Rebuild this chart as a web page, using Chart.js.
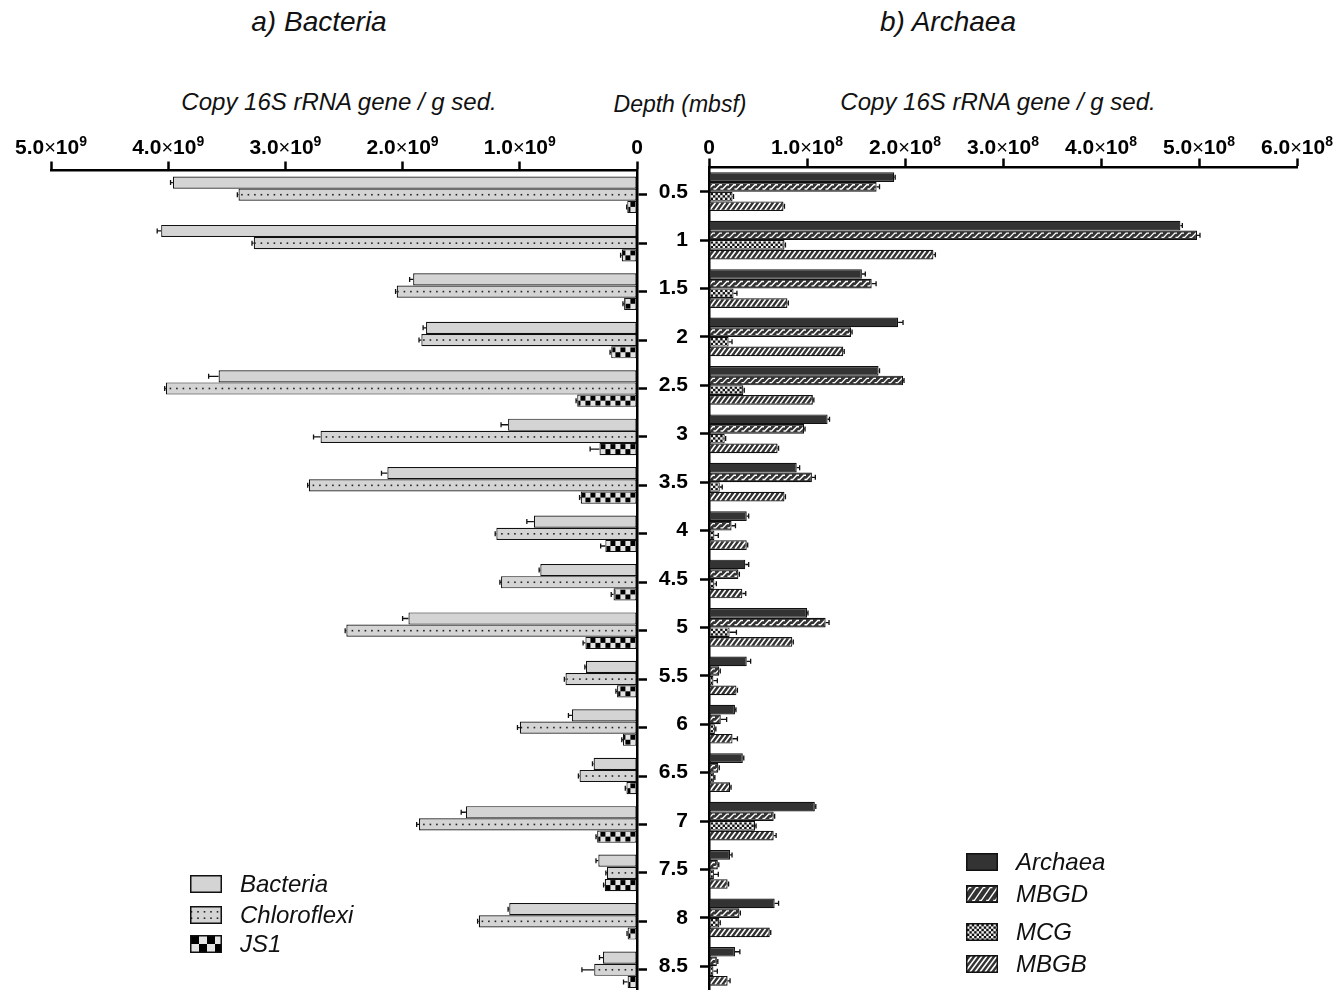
<!DOCTYPE html>
<html><head><meta charset="utf-8">
<script src="https://cdn.jsdelivr.net/npm/chart.js@4.4.1/dist/chart.umd.min.js"></script>
<style>
html,body{margin:0;padding:0;width:1340px;height:990px;overflow:hidden;background:#fff;font-family:"Liberation Sans",Arial,sans-serif;}
.t{position:absolute;font-style:italic;white-space:nowrap;transform:translate(-50%,-50%);color:#111;}
#wl{position:absolute;left:0;top:0;width:660px;height:1000px;}
#wr{position:absolute;left:650px;top:0;width:690px;height:1000px;}
.leg{position:absolute;display:flex;align-items:center;font-style:italic;font-size:24px;color:#111;white-space:nowrap;}
.leg canvas{margin-right:18px;}
</style></head><body>
<div class="t" style="left:319px;top:22px;font-size:28px;">a) Bacteria</div>
<div class="t" style="left:948px;top:22px;font-size:28px;">b) Archaea</div>
<div class="t" style="left:339px;top:102px;font-size:24px;">Copy 16S rRNA gene / g sed.</div>
<div class="t" style="left:998px;top:102px;font-size:24px;">Copy 16S rRNA gene / g sed.</div>
<div class="t" style="left:680px;top:104px;font-size:23px;">Depth (mbsf)</div>
<div id="wl"><canvas id="cl"></canvas></div>
<div id="wr"><canvas id="cr"></canvas></div>
<div id="legL"></div><div id="legR"></div>
<script>
// ---------- data ----------
const depths = ['0.5','1','1.5','2','2.5','3','3.5','4','4.5','5','5.5','6','6.5','7','7.5','8','8.5'];
const bacteriaTicks = [0, 1e9, 2e9, 3e9, 4e9, 5e9];
const archaeaTicks = [0, 1e8, 2e8, 3e8, 4e8, 5e8, 6e8];

const bacteria    = [3.96e9,4.06e9,1.91e9,1.80e9,3.57e9,1.10e9,2.13e9,0.88e9,0.825e9,1.95e9,0.435e9,0.555e9,0.37e9,1.46e9,0.33e9,1.09e9,0.29e9];
const bacteriaErr = [0.02e9,0.034e9,0.03e9,0.025e9,0.085e9,0.06e9,0.05e9,0.06e9,0.01e9,0.05e9,0.01e9,0.03e9,0.01e9,0.04e9,0.02e9,0.01e9,0.03e9];
const chloroflexi = [3.40e9,3.27e9,2.05e9,1.84e9,4.02e9,2.70e9,2.80e9,1.20e9,1.16e9,2.48e9,0.61e9,1.00e9,0.49e9,1.86e9,0.256e9,1.35e9,0.365e9];
const chloroflexiErr = [0.01e9,0.015e9,0.01e9,0.02e9,0.01e9,0.06e9,0.01e9,0.01e9,0.01e9,0.01e9,0.01e9,0.02e9,0.01e9,0.02e9,0.01e9,0.01e9,0.105e9];
const js1    = [0.083e9,0.13e9,0.11e9,0.22e9,0.51e9,0.32e9,0.48e9,0.27e9,0.20e9,0.44e9,0.17e9,0.12e9,0.09e9,0.34e9,0.275e9,0.08e9,0.08e9];
const js1Err = [0.005e9,0.01e9,0.01e9,0.01e9,0.01e9,0.08e9,0.01e9,0.04e9,0.02e9,0.02e9,0.01e9,0.01e9,0.01e9,0.01e9,0.01e9,0.005e9,0.035e9];

const archaea    = [1.89e8,4.81e8,1.56e8,1.93e8,1.73e8,1.21e8,0.895e8,0.385e8,0.37e8,1.00e8,0.385e8,0.265e8,0.345e8,1.08e8,0.215e8,0.67e8,0.265e8];
const archaeaErr = [0.01e8,0.02e8,0.035e8,0.05e8,0.01e8,0.02e8,0.03e8,0.02e8,0.035e8,0.01e8,0.04e8,0.01e8,0.01e8,0.01e8,0.02e8,0.04e8,0.05e8];
const mbgd    = [1.71e8,4.98e8,1.66e8,1.45e8,1.98e8,0.97e8,1.05e8,0.23e8,0.30e8,1.19e8,0.105e8,0.12e8,0.095e8,0.66e8,0.09e8,0.31e8,0.08e8];
const mbgdErr = [0.03e8,0.03e8,0.045e8,0.01e8,0.01e8,0.01e8,0.035e8,0.04e8,0.01e8,0.035e8,0.01e8,0.06e8,0.01e8,0.01e8,0.01e8,0.01e8,0.01e8];
const mcg    = [0.24e8,0.77e8,0.25e8,0.20e8,0.35e8,0.16e8,0.11e8,0.055e8,0.055e8,0.21e8,0.045e8,0.06e8,0.05e8,0.47e8,0.05e8,0.105e8,0.045e8];
const mcgErr = [0.01e8,0.01e8,0.035e8,0.035e8,0.01e8,0.01e8,0.025e8,0.04e8,0.02e8,0.07e8,0.04e8,0.01e8,0.01e8,0.01e8,0.045e8,0.01e8,0.04e8];
const mbgb    = [0.76e8,2.29e8,0.80e8,1.37e8,1.06e8,0.70e8,0.77e8,0.385e8,0.34e8,0.85e8,0.28e8,0.24e8,0.215e8,0.66e8,0.19e8,0.62e8,0.19e8];
const mbgbErr = [0.01e8,0.02e8,0.01e8,0.01e8,0.01e8,0.01e8,0.01e8,0.01e8,0.035e8,0.01e8,0.01e8,0.05e8,0.01e8,0.025e8,0.01e8,0.01e8,0.025e8];

// ---------- patterns ----------
const FONT = '"Liberation Sans", Arial, sans-serif';
function drawPattern(ctx, kind, x, y, w, h, fromRight) {
  if (w <= 0 || h <= 0) return;
  ctx.save();
  ctx.beginPath(); ctx.rect(x, y, w, h); ctx.clip();
  if (kind === 'dots') {
    ctx.fillStyle = '#222';
    const rows = h > 14 ? [y + h * 0.3, y + h * 0.7] : [y + h / 2];
    rows.forEach(cy => {
      for (let px = x + w - 3.5; px > x; px -= 6.5) ctx.fillRect(px - 0.8, cy - 0.8, 1.6, 1.6);
    });
  } else if (kind === 'checker') {
    const s = h / 2;
    ctx.fillStyle = '#e4e4e4'; ctx.fillRect(x, y, w, h);
    ctx.fillStyle = '#000';
    for (let i = 0; i * s < w + s; i++) for (let j = 0; j < 2; j++) {
      if ((i + j) % 2 === 0) {
        const px = fromRight ? x + w - (i + 1) * s : x + i * s;
        ctx.fillRect(px, y + j * s, s, s);
      }
    }
  } else if (kind === 'fine') {
    const s = 2.4;
    ctx.fillStyle = '#f2f2f2'; ctx.fillRect(x, y, w, h);
    ctx.fillStyle = '#111';
    for (let i = 0; i * s < w; i++) for (let j = 0; j * s < h; j++) {
      if ((i + j) % 2 === 0) ctx.fillRect(x + i * s, y + j * s, s, s);
    }
  } else if (kind === 'diag') {
    ctx.strokeStyle = '#fff'; ctx.lineWidth = 1.6;
    const dx = h * 0.75;
    ctx.beginPath();
    for (let k = x - dx; k < x + w + dx; k += 5) { ctx.moveTo(k, y + h); ctx.lineTo(k + dx, y); }
    ctx.stroke();
  } else if (kind === 'zig') {
    ctx.strokeStyle = '#fff'; ctx.lineWidth = 1.4;
    const dx = h * 0.55;
    ctx.beginPath();
    for (let k = x - dx; k < x + w + dx; k += 7) {
      ctx.moveTo(k, y + h - 1.6); ctx.lineTo(k + 2.2, y + h - 1.6);
      ctx.lineTo(k + 2.2 + dx, y + 1.6); ctx.lineTo(k + 4.4 + dx, y + 1.6);
    }
    ctx.stroke();
  }
  ctx.restore();
}

const overlayPlugin = {
  id: 'overlay',
  afterDatasetsDraw(chart) {
    const ctx = chart.ctx;
    const xs = chart.scales.x;
    chart.data.datasets.forEach((ds, di) => {
      const meta = chart.getDatasetMeta(di);
      meta.data.forEach((el, i) => {
        const p = el.getProps(['x', 'y', 'base', 'height'], true);
        const l = Math.min(p.x, p.base), r = Math.max(p.x, p.base);
        const t = p.y - p.height / 2;
        if (ds.pattern) drawPattern(ctx, ds.pattern, l + 1.1, t + 1.1, r - l - 2.2, p.height - 2.2, chart.options.fromRight);
        const e = ds.errors[i];
        const ex = xs.getPixelForValue(ds.data[i] + e);
        ctx.save();
        ctx.strokeStyle = '#111'; ctx.lineWidth = 1.3;
        ctx.beginPath();
        ctx.moveTo(p.x, p.y); ctx.lineTo(ex, p.y);
        ctx.moveTo(ex, p.y - 2.5); ctx.lineTo(ex, p.y + 2.5);
        ctx.stroke();
        ctx.restore();
      });
    });
  }
};

// x tick labels of the form 5.0×10⁹ with a real superscript
const sciLabelPlugin = {
  id: 'sciLabels',
  afterDraw(chart) {
    const o = chart.options.sci;
    const xs = chart.scales.x;
    const ctx = chart.ctx;
    const baseY = o.baseline;
    const fMain = 'bold 21px ' + FONT, fTimes = 'normal 20px ' + FONT, fSup = 'bold 14px ' + FONT;
    ctx.save();
    ctx.fillStyle = '#000';
    ctx.textBaseline = 'alphabetic';
    ctx.textAlign = 'left';
    o.ticks.forEach(v => {
      const px = xs.getPixelForValue(v);
      let parts;
      if (v === 0) parts = [['0', fMain, 0]];
      else parts = [[(v / o.unit).toFixed(1), fMain, 0], ['×', fTimes, 0], ['10', fMain, 0], [o.exp, fSup, -8]];
      let total = 0;
      parts.forEach(p => { ctx.font = p[1]; p.push(ctx.measureText(p[0]).width); total += p[3]; });
      let x = px - total / 2;
      parts.forEach(p => { ctx.font = p[1]; ctx.fillText(p[0], x, baseY + p[2]); x += p[3]; });
    });
    ctx.restore();
  }
};

function makeChart(id, cfg) {
  const fit = cfg.fit;
  return new Chart(document.getElementById(id), {
    type: 'bar',
    plugins: [overlayPlugin, sciLabelPlugin],
    data: { labels: depths, datasets: cfg.datasets },
    options: {
      fromRight: cfg.fromRight,
      sci: { ticks: cfg.ticks, unit: cfg.unit, exp: cfg.exp, baseline: 153.5 },
      indexAxis: 'y',
      responsive: true, maintainAspectRatio: false,
      animation: false,
      layout: { padding: cfg.padding },
      plugins: { legend: { display: false }, tooltip: { enabled: false } },
      datasets: { bar: { categoryPercentage: cfg.catPct, barPercentage: 1.0, borderWidth: 1.2, borderColor: '#111', borderSkipped: false } },
      scales: {
        x: {
          position: 'top', reverse: cfg.reverse, min: cfg.ticks[0], max: cfg.ticks[cfg.ticks.length - 1],
          afterBuildTicks: s => { s.ticks = cfg.ticks.map(v => ({ value: v })); },
          afterFit: s => { s.height = fit.xh; s.paddingLeft = 0; s.paddingRight = 0; s.paddingTop = 0; s.paddingBottom = 0; },
          z: 1,
          border: { display: true, color: '#000', width: 2.5 },
          grid: { display: true, drawOnChartArea: false, drawTicks: true, tickLength: 9, tickWidth: 2.5, tickColor: '#000' },
          ticks: { display: false }
        },
        y: {
          position: cfg.yPos, offset: true,
          afterFit: s => { s.width = fit.yw; s.paddingTop = 0; s.paddingBottom = 0; s.paddingLeft = 0; s.paddingRight = 0; },
          z: 1,
          border: { display: true, color: '#000', width: 2.5 },
          grid: { display: true, offset: false, drawOnChartArea: false, drawTicks: true, tickLength: cfg.yTick, tickWidth: 2.5, tickColor: '#000' },
          ticks: {
            display: cfg.yLabels, padding: 12, color: '#000', autoSkip: false,
            font: { family: FONT, size: 21, weight: 'bold' }
          }
        }
      }
    }
  });
}

const leftSets = [
  { label: 'Bacteria', data: bacteria, errors: bacteriaErr, backgroundColor: '#d4d4d4', pattern: null },
  { label: 'Chloroflexi', data: chloroflexi, errors: chloroflexiErr, backgroundColor: '#d4d4d4', pattern: 'dots' },
  { label: 'JS1', data: js1, errors: js1Err, backgroundColor: '#e4e4e4', pattern: 'checker' }
];
const rightSets = [
  { label: 'Archaea', data: archaea, errors: archaeaErr, backgroundColor: '#333333', pattern: null },
  { label: 'MBGD', data: mbgd, errors: mbgdErr, backgroundColor: '#333333', pattern: 'zig' },
  { label: 'MCG', data: mcg, errors: mcgErr, backgroundColor: '#f2f2f2', pattern: 'fine' },
  { label: 'MBGB', data: mbgb, errors: mbgbErr, backgroundColor: '#333333', pattern: 'diag' }
];

makeChart('cl', {
  datasets: leftSets, ticks: bacteriaTicks, reverse: true, unit: 1e9, exp: '9',
  padding: { left: 51, right: 0, top: 0, bottom: 6 }, fit: { xh: 170.5, yw: 23 },
  catPct: 0.755, yPos: 'right', yTick: 10, yLabels: false, fromRight: true
});
makeChart('cr', {
  datasets: rightSets, ticks: archaeaTicks, reverse: false, unit: 1e8, exp: '8',
  padding: { left: 0, right: 43, top: 0, bottom: 9.5 }, fit: { xh: 167.5, yw: 59 },
  catPct: 0.80, yPos: 'left', yTick: 9, yLabels: true, fromRight: false
});

// ---------- legends ----------
function buildLegend(hostId, sets, left, tops) {
  const host = document.getElementById(hostId);
  sets.forEach((ds, i) => {
    const row = document.createElement('div');
    row.className = 'leg';
    row.style.left = left + 'px';
    row.style.top = (tops[i] - 14) + 'px';
    const c = document.createElement('canvas');
    c.width = 32; c.height = 18;
    const g = c.getContext('2d');
    g.fillStyle = ds.backgroundColor; g.fillRect(0, 0, 32, 18);
    if (ds.pattern) drawPattern(g, ds.pattern, 1, 1, 30, 16, false);
    g.strokeStyle = '#111'; g.lineWidth = 1.5; g.strokeRect(0.75, 0.75, 30.5, 16.5);
    row.appendChild(c);
    const s = document.createElement('span'); s.textContent = ds.label;
    row.appendChild(s);
    host.appendChild(row);
  });
}
buildLegend('legL', leftSets, 190, [884, 915, 944]);
buildLegend('legR', rightSets, 966, [862, 894, 932, 964]);
</script>
</body></html>
